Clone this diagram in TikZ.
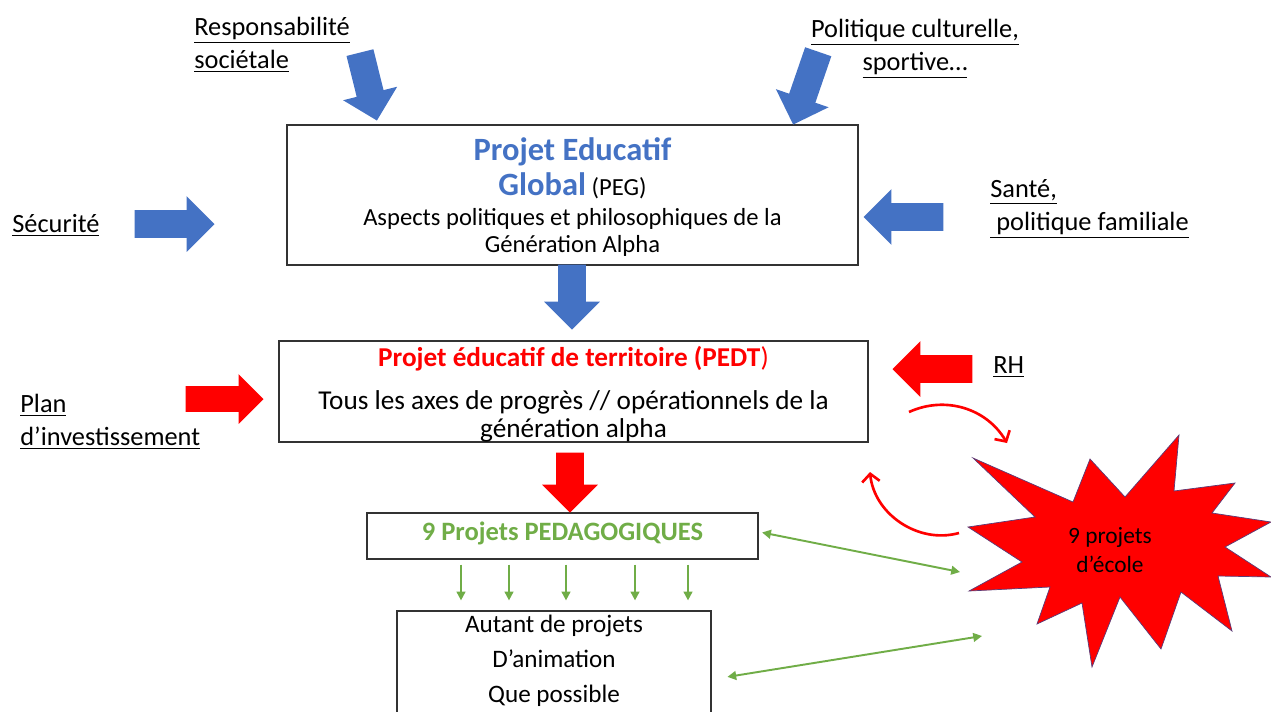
\documentclass[tikz,border=0pt]{standalone}
\usepackage{fontspec}
\setmainfont{Carlito}
\usetikzlibrary{positioning,arrows.meta,shapes.arrows,calc}
\definecolor{pegblue}{HTML}{4472C4}
\definecolor{pedtred}{HTML}{FF0000}
\definecolor{pedgreen}{HTML}{70AD47}
\newcommand{\fs}[2]{\fontsize{#1}{#2}\selectfont\lineskiplimit=-20pt}
\newcommand{\ul}[1]{\underline{#1}}

\begin{document}
\begin{tikzpicture}[x=0.02cm, y=-0.02cm,
  box/.style={draw=black!80, line width=0.7pt, align=center, inner sep=0pt},
  sidetxt/.style={align=left, anchor=west, inner sep=0pt, font=\fs{15}{18.7}},
  blockarr/.style={single arrow, draw=none, inner xsep=0pt, inner ysep=0.27cm,
                   minimum width=1.1cm, single arrow head extend=0.28cm,
                   minimum height=#1, anchor=tip},
  bluearr/.style={blockarr=#1, fill=pegblue},
  redarr/.style={blockarr=#1, fill=pedtred},
  gtip/.tip={Triangle[length=5pt, width=5pt]},
  garr/.style={pedgreen, line width=1.1pt, -gtip},
  gboth/.style={pedgreen, line width=1.1pt, gtip-gtip},
  rcurve/.style={pedtred, line width=1.5pt, -{Straight Barb[length=4.5pt, width=10pt]}}
]
\useasboundingbox (0,0) rectangle (1271,711);

% Main boxes
\node[box, minimum width=11.42cm, minimum height=2.8cm, text depth=0pt,
      font=\fs{14}{15.3}] (peg) at (572.5,195)
  {{\fs{18.5}{21}\bfseries\color{pegblue}Projet Educatif}\\[4.2pt]
   {\fs{18.5}{21}\bfseries\color{pegblue}Global} (PEG)\\[1.8pt]
   Aspects politiques et philosophiques de la\\
   Génération Alpha};
\node[box, minimum width=11.78cm, minimum height=2.02cm, text depth=0pt,
      font=\fs{15.5}{15.9}] (pedt) at (573.5,391.5)
  {{\bfseries\color{pedtred}Projet éducatif de territoire (PEDT\textmd{)}}\\[8.5pt]
   Tous les axes de progrès // opérationnels de la\\
   génération alpha};
\node[box, minimum width=7.82cm, minimum height=0.92cm, text depth=6pt,
      font=\fs{15.1}{18}\bfseries, text=pedgreen] (ped) at (562.5,536)
  {9 Projets PEDAGOGIQUES};
\node[box, minimum width=6.28cm, minimum height=2.2cm, text depth=8.2pt,
      font=\fs{14.3}{19.8}] (anim) at (554,666)
  {Autant de projets\\D’animation\\Que possible};

% Outside influences
\node[sidetxt] (resp) at (194,45) {\ul{Responsabilité}\\\ul{sociétale}};
\node[sidetxt, align=center, anchor=center] (cult) at (915,49)
  {\ul{Politique culturelle,}\\\ul{sportive…}};
\node[sidetxt] (secu) at (12,225) {\ul{Sécurité}};
\node[sidetxt] (sante) at (990,209) {\ul{Santé,}\\\ul{\ politique familiale}};
\node[sidetxt] (rh) at (993,367) {\ul{RH}};
\node[sidetxt] (plan) at (20,422) {\ul{Plan}\\\ul{d’investissement}};

% Block arrows (placed by their tips)
\node[bluearr=1.4cm, rotate=-76] (respArr) at (377,121) {};
\node[bluearr=1.54cm, rotate=-109] (cultArr) at (793,125) {};
\node[bluearr=1.6cm] (secuArr) at (215,224) {};
\node[bluearr=1.6cm, rotate=180] (santeArr) at (863,217) {};
\node[bluearr=1.3cm, rotate=-90] (pegArr) at (572,330) {};
\node[redarr=1.6cm, rotate=180] (rhArr) at (892,369) {};
\node[redarr=1.56cm, minimum width=0.98cm, inner ysep=0.25cm,
      single arrow head extend=0.24cm] (planArr) at (264,399) {};
\node[redarr=1.2cm, rotate=-90] (pedtArr) at (570,513) {};

% School projects star
\fill[pedtred, draw={rgb,255:red,90;green,60;blue,120}, line width=0.4pt]
  (973,458) -- (1073,502) -- (1090,459) -- (1125,497) -- (1179,435)
  -- (1174,491) -- (1235,483) -- (1212,513) -- (1271,522) -- (1225,547)
  -- (1271,577) -- (1218,576) -- (1232,631) -- (1181,592) -- (1161,649)
  -- (1120,597) -- (1092,667) -- (1082,603) -- (1037,624) -- (1050,587)
  -- (969,591) -- (1022,562) -- (968,527) -- (1035,517) -- cycle;
\node[align=center, inner sep=0pt, font=\fs{13.3}{16.4}] (ecole) at (1110,550)
  {9 projets\\d’école};

\coordinate (pedtOut) at (909,412);
\coordinate (starTop) at (1007,443);
\coordinate (starLeft) at (959,533);
\coordinate (pedtIn) at (870,472);
\coordinate (starPed) at (960,572);
\coordinate (starAnim) at (982,636);

% Exchanges
\draw[rcurve] (pedtOut) to[bend left=42] (starTop);
\draw[rcurve] (starLeft) to[bend left=50] (pedtIn);
\draw[gboth] ([xshift=2pt, yshift=2pt]ped.east) -- (starPed);
\draw[gboth] ([xshift=9pt, yshift=-6.2pt]anim.east) -- (starAnim);
\foreach \x in {461,509,566,635,688}
  \draw[garr, shorten <=2.8pt, shorten >=5.7pt] (\x,0 |- ped.south) -- (\x,0 |- anim.north);

\end{tikzpicture}
\end{document}
